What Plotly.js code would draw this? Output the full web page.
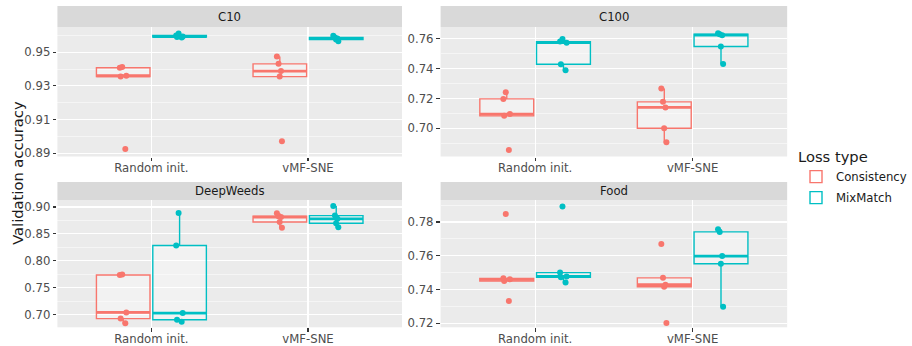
<!DOCTYPE html>
<html>
<head>
<meta charset="utf-8">
<script src="https://cdn.plot.ly/plotly-3.0.1.min.js"></script>
<style>html,body{margin:0;padding:0;background:#fff;}#chart{width:912px;height:346px;}</style>
</head>
<body>
<div id="chart"></div>
<script>
// Categories
const methods = ["Random init.", "vMF-SNE"];
const lossTypes = ["Consistency", "MixMatch"];
const panels = ["C10", "C100", "DeepWeeds", "Food"];
// Each series: first 5 values = Random init., last 5 = vMF-SNE
const c10_consistency = [0.9412, 0.9408, 0.9360, 0.9355, 0.8925, 0.9474, 0.9431, 0.9388, 0.9355, 0.8971];
const c10_mixmatch = [0.9612, 0.9600, 0.9593, 0.9590, 0.9588, 0.9598, 0.9588, 0.9582, 0.9575, 0.9565];
const c100_consistency = [0.7242, 0.7197, 0.7095, 0.7083, 0.6853, 0.7267, 0.7177, 0.7140, 0.7000, 0.6906];
const c100_mixmatch = [0.7600, 0.7582, 0.7575, 0.7430, 0.7390, 0.7638, 0.7632, 0.7625, 0.7549, 0.7432];
const dw_consistency = [0.7745, 0.7738, 0.7042, 0.6928, 0.6840, 0.8882, 0.8828, 0.8812, 0.8721, 0.8615];
const dw_mixmatch = [0.8888, 0.8285, 0.7030, 0.6905, 0.6868, 0.9019, 0.8840, 0.8780, 0.8697, 0.8622];
const food_consistency = [0.7847, 0.7466, 0.7460, 0.7450, 0.7332, 0.7670, 0.7469, 0.7428, 0.7416, 0.7202];
const food_mixmatch = [0.7891, 0.7500, 0.7477, 0.7472, 0.7441, 0.7757, 0.7741, 0.7598, 0.7552, 0.7297];
// y ranges / ticks per panel
const yRanges = [[0.888, 0.965], [0.681, 0.768], [0.6766, 0.913], [0.7176, 0.793]];
const yTick0 = [0.89, 0.70, 0.70, 0.72];
const yDtick = [0.02, 0.02, 0.05, 0.02];

const colors = ["#F8766D", "#00BFC4"];
const W = 912, H = 346;
const xDomains = [[58 / W, 406 / W], [445 / W, 795 / W]];
const yDomains = [[1 - 156.5 / H, 1 - 27 / H], [1 - 327.3 / H, 1 - 200 / H]];
const stripTop = [1 - 6 / H, 1 - 182 / H];

const seriesByPanel = [
  [c10_consistency, c10_mixmatch],
  [c100_consistency, c100_mixmatch],
  [dw_consistency, dw_mixmatch],
  [food_consistency, food_mixmatch]
];
const xLabels = [].concat(Array(5).fill(methods[0]), Array(5).fill(methods[1]));

function median(arr) {
  const s = arr.slice().sort((a, b) => a - b);
  const n = s.length;
  return n % 2 ? s[(n - 1) / 2] : (s[n / 2 - 1] + s[n / 2]) / 2;
}

const font = "DejaVu Sans, Verdana, sans-serif";
const traces = [];
const layout = {
  width: W, height: H,
  margin: {l: 0, r: 0, t: 0, b: 0},
  paper_bgcolor: "#FFFFFF",
  plot_bgcolor: "#EBEBEB",
  boxmode: "group",
  boxgap: 0.28,
  boxgroupgap: 0.05,
  font: {family: font, color: "#4D4D4D", size: 11.7},
  showlegend: true,
  legend: {
    x: 804 / W, xanchor: "left", y: 1 - 178 / H, yanchor: "middle",
    title: {text: "Loss type", font: {size: 14.7, color: "#1A1A1A", family: font}},
    font: {size: 11.7, color: "#1A1A1A", family: font},
    bgcolor: "rgba(0,0,0,0)", tracegroupgap: 2
  },
  shapes: [], annotations: []
};

panels.forEach((name, p) => {
  const col = p % 2, row = Math.floor(p / 2);
  const sfx = p === 0 ? "" : String(p + 1);
  lossTypes.forEach((lt, k) => {
    const vals = seriesByPanel[p][k];
    traces.push({
      type: "box",
      name: lt,
      legendgroup: lt,
      showlegend: p === 0,
      alignmentgroup: "panel" + p,
      offsetgroup: lt,
      x: xLabels,
      y: vals,
      xaxis: "x" + sfx, yaxis: "y" + sfx,
      boxpoints: "all", jitter: 0.15, pointpos: 0,
      quartilemethod: "inclusive",
      marker: {color: colors[k], size: 6, opacity: 1},
      line: {color: colors[k], width: 1.4},
      fillcolor: "rgba(255,255,255,0.35)",
      whiskerwidth: 0,
      hoverinfo: "y"
    });
    // thick median bar (ggplot-style fattened median), computed from the data
    const meds = methods.map((m, i) => median(vals.filter((v, j) => xLabels[j] === m)));
    traces.push({
      type: "box",
      name: lt,
      legendgroup: lt,
      showlegend: false,
      alignmentgroup: "panel" + p,
      offsetgroup: lt,
      x: methods,
      q1: meds, median: meds, q3: meds, lowerfence: meds, upperfence: meds,
      xaxis: "x" + sfx, yaxis: "y" + sfx,
      boxpoints: false,
      line: {color: colors[k], width: 2.8},
      fillcolor: "rgba(0,0,0,0)",
      whiskerwidth: 0,
      hoverinfo: "skip"
    });
  });
  layout["xaxis" + sfx] = {
    domain: xDomains[col], anchor: "y" + sfx,
    type: "category", categoryorder: "array", categoryarray: methods,
    range: [-0.6, 1.6],
    showgrid: true, gridcolor: "#FFFFFF", gridwidth: 1.1,
    zeroline: false, showline: false,
    ticks: "outside", ticklen: 3.7, tickwidth: 1.1, tickcolor: "#333333",
    ticklabelstandoff: -3,
    tickfont: {size: 11.7, color: "#4D4D4D", family: font},
    fixedrange: true
  };
  layout["yaxis" + sfx] = {
    domain: yDomains[row], anchor: "x" + sfx,
    range: yRanges[p], tick0: yTick0[p], dtick: yDtick[p], tickformat: ".2f",
    showgrid: true, gridcolor: "#FFFFFF", gridwidth: 1.1,
    minor: {dtick: yDtick[p] / 2, tick0: yTick0[p], showgrid: true, gridcolor: "#FFFFFF", gridwidth: 0.5, ticks: ""},
    zeroline: false, showline: false,
    ticks: "outside", ticklen: 3.7, tickwidth: 1.1, tickcolor: "#333333",
    tickfont: {size: 11.7, color: "#4D4D4D", family: font},
    fixedrange: true
  };
  layout.shapes.push({
    type: "rect", xref: "paper", yref: "paper",
    x0: xDomains[col][0], x1: xDomains[col][1],
    y0: yDomains[row][1], y1: stripTop[row],
    fillcolor: "#D9D9D9", line: {width: 0}, layer: "below"
  });
  layout.annotations.push({
    text: name, xref: "paper", yref: "paper",
    x: (xDomains[col][0] + xDomains[col][1]) / 2,
    y: (yDomains[row][1] + stripTop[row]) / 2,
    xanchor: "center", yanchor: "middle", showarrow: false,
    font: {size: 11.7, color: "#1A1A1A", family: font}
  });
});

layout.annotations.push({
  text: "Validation accuracy", xref: "paper", yref: "paper",
  x: 17 / W, y: 1 - 173 / H, textangle: -90,
  xanchor: "center", yanchor: "middle", showarrow: false,
  font: {size: 14.7, color: "#1A1A1A", family: font}
});

Plotly.newPlot("chart", traces, layout, {displayModeBar: false, staticPlot: true});
</script>
</body>
</html>
